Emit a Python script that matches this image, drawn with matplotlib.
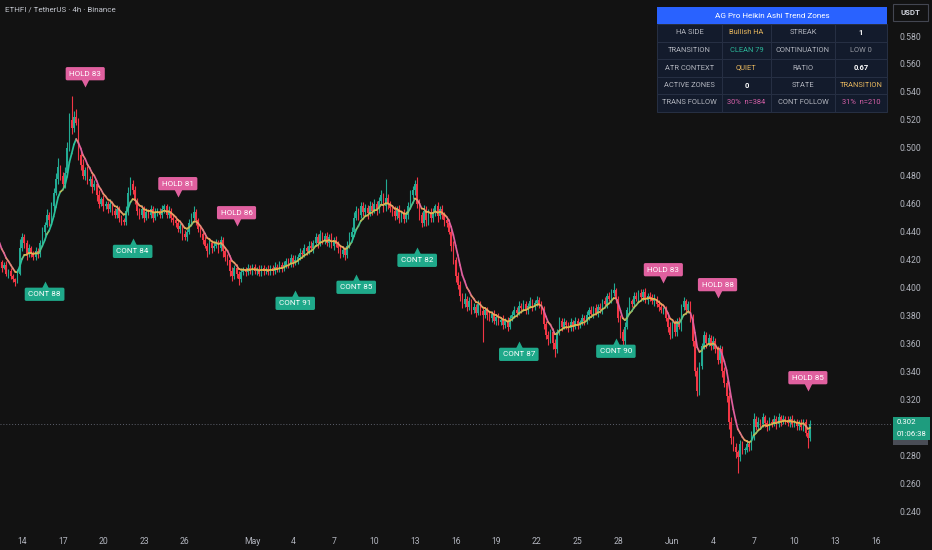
import numpy as np
import pandas as pd
import matplotlib
matplotlib.use('Agg')
from matplotlib import pyplot as plt
from matplotlib.collections import LineCollection
from matplotlib.colors import LinearSegmentedColormap
from matplotlib.patches import Rectangle
from matplotlib.transforms import blended_transform_factory, offset_copy

plt.rcParams['font.family'] = ['Roboto', 'DejaVu Sans']

# ETHFI/USDT 4h closes, one row = one day (6 bars), first bar 2025-04-12 08:00
closes = [
    [0.418, 0.414, 0.416, 0.410, 0.412, 0.408],
    [0.406, 0.404, 0.410, 0.428, 0.436, 0.432],
    [0.424, 0.428, 0.425, 0.422, 0.426, 0.424],
    [0.432, 0.440, 0.445, 0.452, 0.448, 0.458],
    [0.468, 0.478, 0.486, 0.480, 0.474, 0.482],
    [0.500, 0.520, 0.514, 0.522, 0.518, 0.495],
    [0.488, 0.480, 0.484, 0.476, 0.478, 0.472],
    [0.474, 0.466, 0.460, 0.463, 0.458, 0.460],
    [0.456, 0.460, 0.455, 0.452, 0.456, 0.450],
    [0.448, 0.447, 0.455, 0.468, 0.474, 0.470],
    [0.462, 0.455, 0.452, 0.456, 0.450, 0.454],
    [0.452, 0.456, 0.450, 0.454, 0.455, 0.452],
    [0.456, 0.458, 0.452, 0.455, 0.450, 0.448],
    [0.446, 0.442, 0.444, 0.438, 0.436, 0.440],
    [0.446, 0.450, 0.454, 0.448, 0.442, 0.438],
    [0.434, 0.430, 0.426, 0.432, 0.428, 0.430],
    [0.432, 0.428, 0.434, 0.426, 0.422, 0.420],
    [0.412, 0.408, 0.414, 0.410, 0.406, 0.411],
    [0.413, 0.411, 0.414, 0.412, 0.415, 0.412],
    [0.413, 0.410, 0.414, 0.412, 0.413, 0.411],
    [0.414, 0.412, 0.415, 0.413, 0.416, 0.414],
    [0.416, 0.419, 0.417, 0.421, 0.418, 0.420],
    [0.422, 0.425, 0.424, 0.428, 0.426, 0.430],
    [0.428, 0.432, 0.436, 0.432, 0.438, 0.434],
    [0.437, 0.432, 0.436, 0.430, 0.434, 0.431],
    [0.428, 0.424, 0.427, 0.423, 0.430, 0.436],
    [0.440, 0.450, 0.455, 0.452, 0.458, 0.454],
    [0.457, 0.453, 0.458, 0.455, 0.460, 0.456],
    [0.462, 0.466, 0.458, 0.464, 0.460, 0.457],
    [0.455, 0.451, 0.456, 0.450, 0.453, 0.449],
    [0.452, 0.458, 0.466, 0.470, 0.474, 0.460],
    [0.452, 0.446, 0.455, 0.448, 0.454, 0.450],
    [0.454, 0.458, 0.451, 0.456, 0.452, 0.448],
    [0.446, 0.440, 0.430, 0.420, 0.408, 0.402],
    [0.394, 0.388, 0.392, 0.386, 0.390, 0.384],
    [0.386, 0.382, 0.388, 0.383, 0.380, 0.384],
    [0.380, 0.378, 0.381, 0.376, 0.379, 0.375],
    [0.377, 0.373, 0.376, 0.372, 0.378, 0.380],
    [0.384, 0.382, 0.387, 0.385, 0.388, 0.384],
    [0.387, 0.390, 0.386, 0.389, 0.391, 0.388],
    [0.384, 0.374, 0.366, 0.363, 0.368, 0.360],
    [0.356, 0.368, 0.376, 0.372, 0.375, 0.373],
    [0.371, 0.375, 0.372, 0.376, 0.373, 0.375],
    [0.378, 0.376, 0.380, 0.384, 0.381, 0.385],
    [0.382, 0.386, 0.384, 0.390, 0.388, 0.394],
    [0.392, 0.396, 0.398, 0.392, 0.378, 0.368],
    [0.362, 0.372, 0.384, 0.390, 0.388, 0.394],
    [0.392, 0.396, 0.393, 0.397, 0.391, 0.394],
    [0.393, 0.390, 0.392, 0.388, 0.386, 0.384],
    [0.384, 0.378, 0.372, 0.366, 0.374, 0.368],
    [0.376, 0.372, 0.386, 0.390, 0.384, 0.388],
    [0.378, 0.362, 0.340, 0.326, 0.344, 0.358],
    [0.366, 0.360, 0.364, 0.358, 0.362, 0.356],
    [0.348, 0.356, 0.340, 0.332, 0.322, 0.304],
    [0.292, 0.286, 0.282, 0.279, 0.288, 0.284],
    [0.284, 0.288, 0.286, 0.294, 0.306, 0.300],
    [0.304, 0.302, 0.307, 0.303, 0.300, 0.304],
    [0.303, 0.306, 0.302, 0.307, 0.304, 0.306],
    [0.305, 0.303, 0.306, 0.302, 0.304, 0.301],
    [0.303, 0.300, 0.304, 0.296, 0.292, 0.302],
]
first_open = 0.420

# wick lengths in 0.001 above the body / below the body
wick_up = [
    [3, 2, 2, 3, 1, 2], [2, 1, 3, 7, 3, 2], [2, 3, 2, 1, 3, 2], [2, 3, 2, 4, 2, 3],
    [3, 4, 7, 2, 3, 4], [4, 5, 17, 4, 6, 3], [3, 4, 2, 3, 2, 3], [3, 2, 4, 2, 3, 2],
    [2, 3, 2, 2, 3, 2], [2, 2, 3, 4, 5, 3], [3, 2, 2, 3, 2, 3], [2, 3, 2, 3, 2, 2],
    [3, 2, 2, 3, 2, 2], [2, 3, 2, 2, 3, 2], [3, 3, 4, 2, 2, 3], [2, 3, 2, 3, 2, 3],
    [3, 2, 3, 2, 2, 2], [2, 3, 2, 3, 2, 3], [2, 2, 3, 2, 2, 2], [2, 3, 2, 2, 2, 3],
    [2, 2, 3, 2, 3, 2], [3, 2, 2, 3, 2, 3], [2, 3, 2, 3, 2, 3], [3, 2, 3, 2, 3, 2],
    [2, 3, 2, 3, 2, 3], [2, 2, 3, 2, 3, 4], [3, 4, 3, 2, 3, 3], [3, 2, 4, 3, 3, 2],
    [3, 4, 2, 14, 3, 2], [2, 3, 2, 3, 2, 3], [3, 3, 4, 3, 3, 5], [3, 2, 4, 3, 2, 3],
    [3, 2, 3, 2, 3, 2], [2, 3, 2, 3, 2, 3], [3, 2, 4, 2, 3, 2], [3, 2, 3, 2, 3, 2],
    [2, 3, 2, 3, 2, 3], [2, 3, 2, 3, 2, 3], [3, 2, 3, 2, 3, 2], [2, 3, 2, 2, 3, 2],
    [2, 3, 2, 3, 2, 3], [3, 2, 3, 2, 3, 2], [2, 3, 2, 3, 2, 2], [3, 2, 3, 2, 3, 2],
    [3, 2, 3, 2, 3, 2], [3, 3, 5, 2, 2, 2], [2, 3, 2, 3, 2, 3], [3, 2, 3, 2, 3, 2],
    [3, 2, 3, 2, 3, 2], [2, 3, 2, 3, 2, 3], [2, 3, 2, 3, 2, 2], [2, 3, 2, 3, 3, 2],
    [3, 2, 3, 2, 3, 2], [2, 3, 2, 3, 2, 3], [3, 2, 3, 2, 3, 2], [2, 3, 2, 3, 4, 2],
    [3, 2, 3, 2, 2, 3], [2, 3, 2, 3, 2, 3], [2, 3, 2, 3, 2, 2], [2, 3, 2, 2, 2, 3],
]
wick_dn = [
    [2, 3, 1, 2, 3, 2], [2, 3, 1, 1, 2, 4], [4, 2, 3, 2, 2, 3], [2, 1, 3, 2, 4, 2],
    [3, 2, 4, 3, 2, 3], [3, 2, 4, 3, 2, 4], [4, 2, 3, 2, 3, 4], [2, 4, 3, 2, 3, 2],
    [3, 2, 3, 2, 2, 3], [3, 2, 2, 3, 2, 3], [2, 3, 3, 2, 3, 2], [2, 2, 3, 2, 3, 2],
    [2, 3, 2, 2, 3, 3], [3, 2, 3, 4, 2, 3], [2, 2, 3, 3, 2, 2], [3, 2, 4, 2, 3, 2],
    [2, 3, 2, 4, 3, 4], [4, 3, 2, 3, 4, 2], [2, 3, 2, 2, 3, 2], [3, 2, 2, 3, 2, 2],
    [2, 3, 2, 2, 2, 3], [2, 2, 3, 2, 3, 2], [3, 2, 3, 2, 3, 2], [2, 3, 2, 4, 2, 3],
    [3, 2, 3, 2, 3, 2], [3, 3, 2, 3, 2, 2], [2, 3, 2, 4, 2, 3], [3, 4, 2, 3, 2, 4],
    [3, 2, 4, 3, 4, 3], [4, 3, 2, 4, 3, 3], [2, 3, 2, 3, 4, 3], [4, 3, 2, 4, 3, 3],
    [3, 3, 4, 2, 3, 4], [3, 2, 4, 3, 4, 3], [4, 3, 2, 3, 2, 3], [2, 3, 2, 3, 19, 2],
    [3, 2, 3, 2, 3, 2], [2, 3, 2, 3, 2, 2], [2, 3, 2, 3, 2, 3], [3, 2, 3, 2, 2, 3],
    [3, 4, 3, 4, 3, 4], [6, 3, 2, 3, 2, 3], [3, 2, 3, 2, 3, 2], [2, 3, 2, 3, 2, 3],
    [2, 3, 2, 3, 2, 3], [2, 3, 2, 3, 3, 4], [7, 3, 2, 3, 2, 3], [2, 3, 2, 3, 2, 3],
    [3, 2, 3, 2, 3, 2], [3, 2, 4, 3, 2, 3], [3, 2, 3, 2, 3, 2], [3, 4, 3, 4, 3, 2],
    [2, 3, 2, 3, 2, 3], [3, 2, 4, 3, 4, 5], [4, 3, 4, 12, 3, 3], [3, 2, 3, 2, 3, 2],
    [2, 3, 2, 3, 3, 2], [3, 2, 3, 2, 3, 2], [3, 2, 3, 2, 2, 3], [3, 2, 3, 2, 7, 2],
]
start_time = '2025-04-12 08:00'
ema_seed = 0.437
ema_span = 7

# zone labels: text, bar index, price of the pointer tip
label_text = ['CONT 88', 'HOLD 83', 'CONT 84', 'HOLD 81', 'HOLD 86', 'CONT 91', 'CONT 85',
              'CONT 82', 'CONT 87', 'CONT 90', 'HOLD 83', 'HOLD 88', 'HOLD 85']
label_bar = [20, 38, 59, 79, 105, 131, 158, 185, 230, 273, 294, 318, 358]
label_price = [0.4047, 0.5435, 0.4354, 0.4648, 0.4440, 0.3982, 0.4097,
               0.4290, 0.3617, 0.3639, 0.4032, 0.3925, 0.3259]

tick_dates = ['2025-04-14', '2025-04-17', '2025-04-20', '2025-04-23', '2025-04-26',
              '2025-05-01', '2025-05-04', '2025-05-07', '2025-05-10', '2025-05-13',
              '2025-05-16', '2025-05-19', '2025-05-22', '2025-05-25', '2025-05-28',
              '2025-06-01', '2025-06-04', '2025-06-07', '2025-06-10', '2025-06-13',
              '2025-06-16']
tick_names = ['14', '17', '20', '23', '26', 'May', '4', '7', '10', '13', '16', '19',
              '22', '25', '28', 'Jun', '4', '7', '10', '13', '16']
price_ticks = [0.24, 0.26, 0.28, 0.30, 0.32, 0.34, 0.36, 0.38, 0.40, 0.42,
               0.44, 0.46, 0.48, 0.50, 0.52, 0.54, 0.56, 0.58]

table_title = 'AG Pro Heikin Ashi Trend Zones'
table_cells = [
    ['HA SIDE', 'Bullish HA', 'STREAK', '1'],
    ['TRANSITION', 'CLEAN 79', 'CONTINUATION', 'LOW 0'],
    ['ATR CONTEXT', 'QUIET', 'RATIO', '0.67'],
    ['ACTIVE ZONES', '0', 'STATE', 'TRANSITION'],
    ['TRANS FOLLOW', '30%  n=384', 'CONT FOLLOW', '31%  n=210'],
]
gold = '#e6b65e'
pinkt = '#d660a8'
table_colors = [
    ['#b2b5be', gold, '#b2b5be', 'white'],
    ['#b2b5be', '#2bb89a', '#b2b5be', '#9598a1'],
    ['#b2b5be', gold, '#b2b5be', 'white'],
    ['#b2b5be', 'white', '#b2b5be', gold],
    ['#b2b5be', pinkt, '#b2b5be', pinkt],
]
table_bold = [[False, False, False, True], [False] * 4, [False, False, False, True],
              [False, True, False, False], [False] * 4]

bg = '#121212'
up_col = '#22ab94'
dn_col = '#f23645'
hold_col = '#e0609f'
cont_col = '#1fa98a'

# ---- build OHLC
close = np.array(closes).ravel()
n = len(close)
opn = np.concatenate([[first_open], close[:-1]])
top = np.maximum(opn, close)
bot = np.minimum(opn, close)
high = top + np.array(wick_up).ravel() / 1000
low = bot - np.array(wick_dn).ravel() / 1000
x = np.arange(n)
cols = np.where(close >= opn, up_col, dn_col)

ema = []
v = ema_seed
a = 2 / (ema_span + 1)
for c in close:
    v = v + a * (c - v)
    ema.append(v)
ema = np.array(ema)

fig = plt.figure(figsize=(9.32, 5.5), dpi=100, facecolor=bg)
ax = fig.add_axes([0, 25 / 550, 893 / 932, 525 / 550], facecolor=bg)
ax.set_xlim(0.26, 395.7)
ax.set_ylim(0.2300, 0.6058)
for s in ax.spines.values():
    s.set_visible(False)

ax.vlines(x, low, high, colors=cols, lw=0.8, zorder=2)
ax.bar(x, np.maximum(top - bot, 0.0005), bottom=bot, width=0.72, color=cols,
       linewidth=0, zorder=3)

# trend line coloured by slope: pink falling, gold flat, teal rising
cmap = LinearSegmentedColormap.from_list(
    'ha', [(0, '#e0609f'), (0.3, '#e8a064'), (0.5, '#e8b44c'), (0.7, '#b8bc5a'), (1, '#2bc29c')])
pts = np.column_stack([x, ema])
segs = np.stack([pts[:-1], pts[1:]], axis=1)
slope = np.diff(ema)
lc = LineCollection(segs, colors=cmap((np.clip(slope / 0.004, -1, 1) + 1) / 2),
                    linewidths=1.25, zorder=4, capstyle='round')
ax.add_collection(lc)

# last price dotted line
last = close[-1]
ax.axhline(last, color='#5d606b', lw=0.7, ls=(0, (1, 2)), zorder=1)

# zone labels
for txt, b, p in zip(label_text, label_bar, label_price):
    hold = txt.startswith('HOLD')
    col = hold_col if hold else cont_col
    sgn = 1 if hold else -1
    tri = offset_copy(ax.transData, fig=fig, x=0, y=sgn * 3.0, units='points')
    ax.plot([b], [p], marker='v' if hold else '^', ms=6, color=col, mec='none',
            transform=tri, zorder=5)
    ax.annotate(txt, xy=(b, p), xytext=(0, sgn * 9.6), textcoords='offset points',
                ha='center', va='center', fontsize=5.8, color='white', zorder=6,
                bbox=dict(boxstyle='round,pad=0.45,rounding_size=0.2', fc=col, ec='none'))

# axes ticks
t0 = pd.Timestamp(start_time)
tick_pos = (pd.to_datetime(tick_dates) - t0) / pd.Timedelta('4h')
ax.set_xticks(np.array(tick_pos, dtype=float))
ax.set_xticklabels(tick_names)
ax.yaxis.tick_right()
ax.set_yticks(price_ticks)
ax.set_yticklabels(['%.3f' % t for t in price_ticks])
ax.tick_params(axis='both', length=0, labelsize=6.2, labelcolor='#b2b5be')
ax.tick_params(axis='y', pad=4.5)
ax.tick_params(axis='x', pad=8.5)

# last price tag
bt = blended_transform_factory(ax.transAxes, ax.transData)
ax.add_patch(Rectangle((1.0, last - 0.0147), 35 / 893, 0.0057, transform=bt,
                       fc='#4a4d56', ec='none', clip_on=False, zorder=7))
ax.add_patch(Rectangle((1.0, last - 0.0112), 37 / 893, 0.0165, transform=bt,
                       fc='#1e9c7e', ec='none', clip_on=False, zorder=8))
ax.text(1.0 + 4 / 893, last + 0.0017, '0.302', transform=bt, color='white',
        fontsize=5.6, va='center', clip_on=False, zorder=9)
ax.text(1.0 + 4 / 893, last - 0.0071, '01:06:38', transform=bt, color='white',
        fontsize=5.6, va='center', clip_on=False, zorder=9)

# overlay in pixel units for header, table, currency box
ov = fig.add_axes([0, 0, 1, 1], zorder=10)
ov.set_xlim(0, 932)
ov.set_ylim(550, 0)
ov.axis('off')
ov.patch.set_alpha(0)

ov.text(5, 10, 'ETHFI / TetherUS · 4h · Binance', color='#c3c6ce', fontsize=5.8,
        va='center', ha='left')

ov.add_patch(Rectangle((893, 4), 35, 17, fc=bg, ec='#434651', lw=0.8))
ov.text(910.5, 12.5, 'USDT', color='#d1d4dc', fontsize=5.6, ha='center', va='center',
        fontweight='bold')

col_x = [657, 722, 771, 835, 887]
row_y = [24, 42, 59, 77, 94, 112]
ov.add_patch(Rectangle((col_x[0], 7), col_x[-1] - col_x[0], 17, fc='#2962ff', ec='none'))
ov.text((col_x[0] + col_x[-1]) / 2, 15.5, table_title, color='white', fontsize=5.9,
        ha='center', va='center')
for r, row in enumerate(table_cells):
    for c, val in enumerate(row):
        ov.add_patch(Rectangle((col_x[c], row_y[r]), col_x[c + 1] - col_x[c],
                               row_y[r + 1] - row_y[r], fc='#131b2c', ec='#273044', lw=0.7))
        ov.text((col_x[c] + col_x[c + 1]) / 2, (row_y[r] + row_y[r + 1]) / 2, val,
                color=table_colors[r][c], fontsize=5.4, ha='center', va='center',
                fontweight='bold' if table_bold[r][c] else 'normal')

fig.savefig('out.png', dpi=100, facecolor=bg)
